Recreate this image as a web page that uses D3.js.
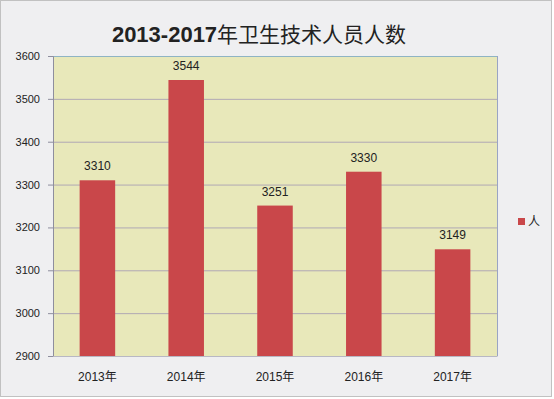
<!DOCTYPE html>
<html>
<head>
<meta charset="utf-8">
<script src="https://cdn.jsdelivr.net/npm/d3@7"></script>
<style>
  body { margin: 0; background: #fff; }
  svg text { font-family: "Liberation Sans", "Noto Sans CJK SC", sans-serif; fill: #222; }
</style>
</head>
<body>
<script>
// chart data
const years = ["2013年", "2014年", "2015年", "2016年", "2017年"];
const people = [3310, 3544, 3251, 3330, 3149];
const yTicks = [2900, 3000, 3100, 3200, 3300, 3400, 3500, 3600];
const seriesName = "人";

const W = 554, H = 399;
const plot = { left: 53, top: 56, right: 497, bottom: 356 };

const svg = d3.select("body").append("svg")
  .attr("width", W)
  .attr("height", H);

// outer background + dotted frame
svg.append("rect")
  .attr("x", 0.5).attr("y", 0.5)
  .attr("width", W - 3).attr("height", H - 3)
  .attr("fill", "#efeff1")
  .attr("stroke", "#8a8a8a")
  .attr("stroke-dasharray", "1,1");

// title: bold digits, plain CJK
const title = svg.append("text")
  .attr("x", 259).attr("y", 42)
  .attr("text-anchor", "middle")
  .attr("font-size", "22px");
title.append("tspan").attr("font-weight", "bold").text("2013-2017");
title.append("tspan")
  .style("font-family", "'Noto Sans CJK SC', sans-serif")
  .attr("font-size", "21px")
  .text("年卫生技术人员人数");

const x = d3.scaleBand()
  .domain(years)
  .range([plot.left, plot.right])
  .paddingInner(0.6)
  .paddingOuter(0.3);

const y = d3.scaleLinear()
  .domain([2900, 3600])
  .range([plot.bottom, plot.top]);

// plot area
svg.append("rect")
  .attr("x", plot.left).attr("y", plot.top)
  .attr("width", plot.right - plot.left)
  .attr("height", plot.bottom - plot.top)
  .attr("fill", "#e8e8ba");

// gridlines
svg.append("g")
  .selectAll("line")
  .data(yTicks.slice(1))
  .join("line")
  .attr("x1", plot.left).attr("x2", plot.right)
  .attr("y1", (d) => y(d) + 0.5).attr("y2", (d) => y(d) + 0.5)
  .attr("stroke", (d) => (d === 3600 ? "#8fb4c4" : "#b0a8b4"))
  .attr("stroke-width", 1);

// right border of plot
svg.append("line")
  .attr("x1", plot.right + 0.5).attr("x2", plot.right + 0.5)
  .attr("y1", plot.top).attr("y2", plot.bottom)
  .attr("stroke", "#9aa4c4");

// bars
svg.append("g")
  .selectAll("rect")
  .data(people)
  .join("rect")
  .attr("x", (d, i) => x(years[i]))
  .attr("y", (d) => y(d))
  .attr("width", x.bandwidth())
  .attr("height", (d) => y(2900) - y(d))
  .attr("fill", "#c9474a");

// value labels
svg.append("g")
  .selectAll("text")
  .data(people)
  .join("text")
  .attr("x", (d, i) => x(years[i]) + x.bandwidth() / 2)
  .attr("y", (d) => y(d) - 10)
  .attr("text-anchor", "middle")
  .attr("font-size", "12px")
  .text((d) => d);

// y axis
const yAxis = svg.append("g")
  .attr("transform", `translate(${plot.left},0)`)
  .call(d3.axisLeft(y).tickValues(yTicks).tickSize(5).tickPadding(8).tickFormat(d3.format("d")));
yAxis.select(".domain").attr("stroke", "#8e8e9e");
yAxis.selectAll(".tick line").attr("stroke", "#8e8e9e");
yAxis.selectAll(".tick text").attr("font-size", "11px").attr("fill", "#222");

// x axis
const xAxis = svg.append("g")
  .attr("transform", `translate(0,${plot.bottom})`)
  .call(d3.axisBottom(x).tickSize(0).tickPadding(16));
xAxis.select(".domain").attr("stroke", "#b8b8c4");
xAxis.selectAll(".tick text").attr("font-size", "12px").attr("fill", "#222");

// legend
svg.append("rect")
  .attr("x", 518).attr("y", 218)
  .attr("width", 7).attr("height", 7)
  .attr("fill", "#c9474a");
svg.append("text")
  .attr("x", 528).attr("y", 226)
  .attr("font-size", "12px")
  .style("font-family", "'Noto Sans CJK SC', sans-serif")
  .text(seriesName);
</script>
</body>
</html>
